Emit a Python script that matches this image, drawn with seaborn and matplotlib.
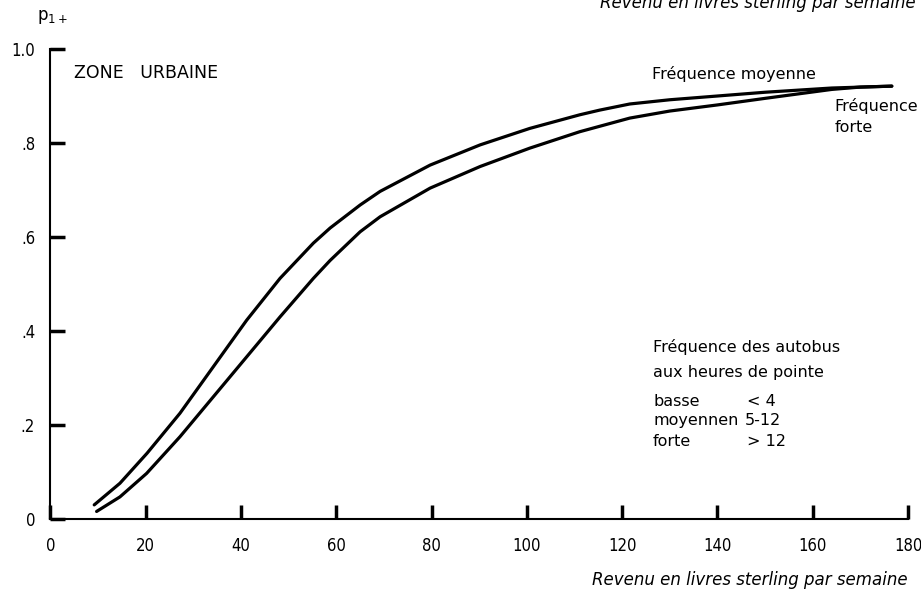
import matplotlib
matplotlib.use("Agg")
import matplotlib.pyplot as plt
import seaborn as sns
import pandas as pd

# Probabilité de posséder au moins une voiture (p1+) selon le revenu hebdomadaire
revenu_moyenne = [9.2, 14.6, 20.3, 27.2, 34.2, 41.2, 48.2, 55.2, 58.7, 65.0, 69.2,
                  79.7, 90.2, 100.6, 111.1, 115.3, 121.6, 130.0, 140.0, 150.0, 164.0, 176.6]
p_moyenne = [0.030, 0.076, 0.140, 0.225, 0.324, 0.423, 0.512, 0.587, 0.619, 0.668, 0.697,
             0.753, 0.796, 0.831, 0.860, 0.870, 0.883, 0.892, 0.900, 0.908, 0.917, 0.921]

revenu_forte = [9.7, 14.6, 20.2, 27.2, 34.2, 41.2, 48.2, 55.2, 58.7, 65.0, 69.2,
                79.7, 90.2, 100.6, 111.1, 121.6, 130.0, 140.0, 150.0, 164.0, 170.0, 176.6]
p_forte = [0.016, 0.047, 0.097, 0.175, 0.260, 0.345, 0.430, 0.512, 0.550, 0.611, 0.643,
           0.704, 0.750, 0.789, 0.824, 0.853, 0.868, 0.881, 0.895, 0.914, 0.919, 0.921]

x_ticks = [0, 20, 40, 60, 80, 100, 120, 140, 160, 180]
y_ticks = [0, 0.2, 0.4, 0.6, 0.8, 1.0]
y_tick_labels = ["0", ".2", ".4", ".6", ".8", "1.0"]

df = pd.concat([
    pd.DataFrame({"revenu": revenu_moyenne, "p": p_moyenne, "freq": "moyenne"}),
    pd.DataFrame({"revenu": revenu_forte, "p": p_forte, "freq": "forte"}),
])

sns.set_theme(style="white")
plt.rcParams["font.family"] = ["DejaVu Sans"]

fig = plt.figure(figsize=(9.21, 5.94), dpi=100)
ax = fig.add_axes([0.0547, 0.1263, 0.9312, 0.7912])

sns.lineplot(data=df, x="revenu", y="p", units="freq", estimator=None,
             color="black", linewidth=2.3, sort=True, ax=ax, legend=False)
for ln in ax.lines:
    ln.set_solid_joinstyle("round")
    ln.set_solid_capstyle("round")

ax.set_xlim(0, 180)
ax.set_ylim(0, 1.0)
ax.set_xlabel("")
ax.set_ylabel("")

for s in ("top", "right"):
    ax.spines[s].set_visible(False)
for s in ("left", "bottom"):
    ax.spines[s].set_color("black")
    ax.spines[s].set_linewidth(1.5)

tick_font = {"family": "DejaVu Sans", "stretch": "condensed", "size": 12}
ax.set_xticks(x_ticks)
ax.set_xticklabels([str(v) for v in x_ticks], fontdict=tick_font)
ax.set_yticks(y_ticks)
ax.set_yticklabels(y_tick_labels, fontdict=tick_font)
ax.tick_params(axis="x", bottom=True, direction="in", length=10, width=2.5,
               pad=13, colors="black")
ax.tick_params(axis="y", left=True, direction="in", length=11, width=2.5,
               pad=11, colors="black")

txt = dict(color="black", fontsize=11.5)
ax.text(5.0, 0.950, "ZONE   URBAINE", va="center", ha="left", fontsize=12.5, color="black")
ax.text(126.3, 0.947, "Fréquence moyenne", va="center", ha="left", **txt)
ax.text(164.5, 0.879, "Fréquence", va="center", ha="left", **txt)
ax.text(164.5, 0.834, "forte", va="center", ha="left", **txt)

ax.text(126.5, 0.366, "Fréquence des autobus", va="center", ha="left", **txt)
ax.text(126.5, 0.311, "aux heures de pointe", va="center", ha="left", **txt)
ax.text(126.5, 0.249, "basse", va="center", ha="left", **txt)
ax.text(146.2, 0.249, "< 4", va="center", ha="left", **txt)
ax.text(126.5, 0.209, "moyennen", va="center", ha="left", **txt)
ax.text(145.8, 0.209, "5-12", va="center", ha="left", **txt)
ax.text(126.5, 0.165, "forte", va="center", ha="left", **txt)
ax.text(146.2, 0.165, "> 12", va="center", ha="left", **txt)

fig.text(0.0402, 0.972, r"p$_{\mathregular{1+}}$", ha="left", va="center",
         fontsize=12, color="black")

fig.text(0.985, 0.024, "Revenu en livres sterling par semaine", ha="right",
         va="center", fontsize=12, style="italic", color="black")
fig.text(0.994, 0.986, "Revenu en livres sterling par semaine", ha="right",
         va="baseline", fontsize=12, style="italic", color="black")

fig.savefig("out.png", dpi=100, facecolor="white")
